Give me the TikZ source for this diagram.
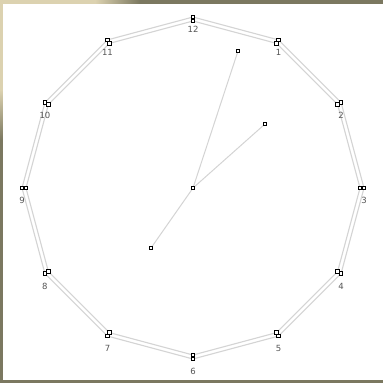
\documentclass[tikz,border=0pt]{standalone}
\usepackage{fontspec}
\setmainfont{DejaVu Sans}
\begin{document}
\begin{tikzpicture}[x=1pt,y=-1pt]
\definecolor{beige}{HTML}{DCD2B0}
\definecolor{olive}{HTML}{7B7860}
\definecolor{ring}{HTML}{D4D4D4}
\definecolor{lab}{HTML}{555555}
\tikzset{
  sq/.style={draw=black,fill=white,line width=0.9pt,minimum size=3.6pt,inner sep=0pt},
  ringline/.style={draw=ring,line width=1.1pt},
  hand/.style={draw=ring,line width=1pt},
  lbl/.style={text=lab,font=\fontsize{8.5}{8.5}\selectfont,inner sep=0pt}
}
\useasboundingbox (0,0) rectangle (383,383);
\fill[olive] (0,0) rectangle (383,383);
\fill[beige] (0,0) rectangle (95,4);
\shade[left color=beige,right color=olive] (95,0) rectangle (140,4);
\fill[beige] (0,0) rectangle (3,90);
\shade[top color=beige,bottom color=olive] (0,90) rectangle (3,140);
\fill[white] (3,4) rectangle (383,380);
\foreach \i in {1,...,12} {
  \coordinate (O\i) at ({193+171*sin(30*\i)},{188-171*cos(30*\i)});
  \coordinate (I\i) at ({193+167*sin(30*\i)},{188-167*cos(30*\i)});
}
\foreach \i [evaluate=\i as \j using {int(mod(\i,12)+1)}] in {1,...,12} {
  \draw[ringline] (O\i) -- (O\j);
  \draw[ringline] (I\i) -- (I\j);
}
\coordinate (C) at (193,188);
\coordinate (M) at (238,51);
\coordinate (H) at (265,124);
\coordinate (T) at (151,248);
\draw[hand] (C) -- (M);
\draw[hand] (C) -- (H);
\draw[hand] (C) -- (T);
\foreach \i in {1,...,12} {
  \node[sq] (so\i) at (O\i) {};
  \node[sq] (si\i) at (I\i) {};
  \node[lbl] (l\i) at ([yshift=-12.5pt]O\i) {\i};
}
\node[sq] (sc) at (C) {};
\node[sq] (sm) at (M) {};
\node[sq] (sh) at (H) {};
\node[sq] (st) at (T) {};
\end{tikzpicture}
\end{document}
